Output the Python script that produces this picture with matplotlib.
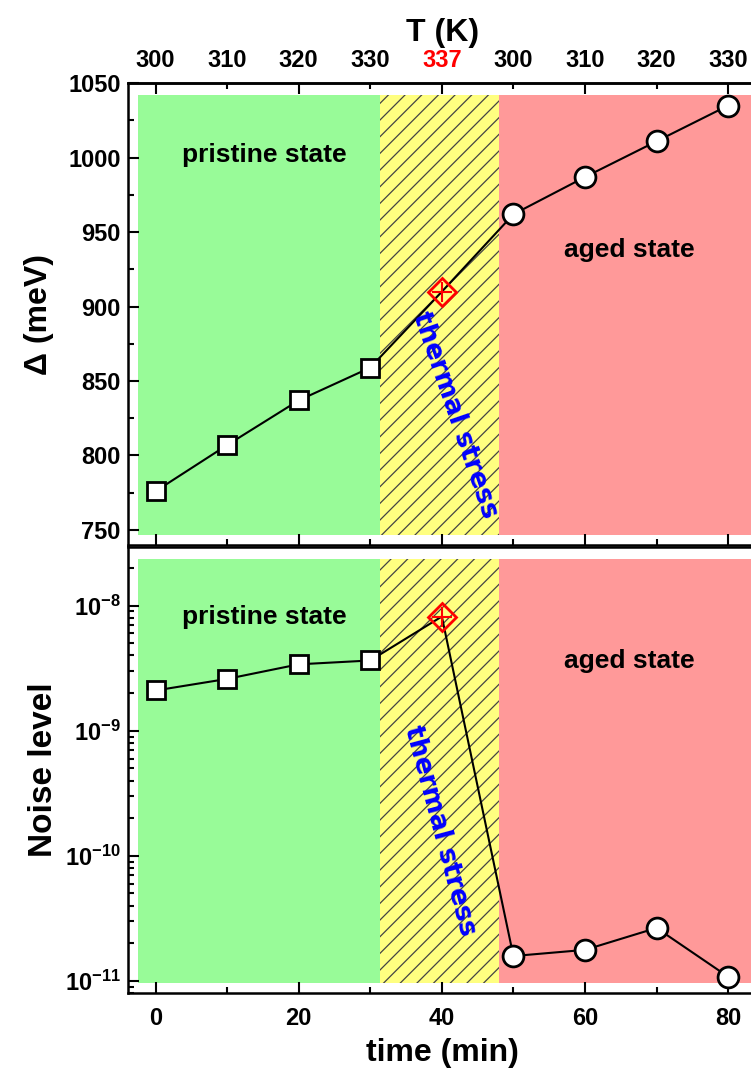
import matplotlib

matplotlib.use('Agg')
import matplotlib.pyplot as plt
from matplotlib.ticker import LogLocator, NullFormatter, FixedLocator

plt.rcParams['font.family'] = ['Liberation Sans', 'DejaVu Sans']
plt.rcParams['font.weight'] = 'bold'
plt.rcParams['axes.labelweight'] = 'bold'
plt.rcParams['mathtext.fontset'] = 'custom'
plt.rcParams['mathtext.rm'] = 'Liberation Sans:bold'
plt.rcParams['mathtext.it'] = 'Liberation Sans:bold'
plt.rcParams['mathtext.default'] = 'rm'
plt.rcParams['hatch.linewidth'] = 0.9

# 数据
TIME = [0, 10, 20, 30, 40, 50, 60, 70, 80]
GAP = [776, 807, 837, 859, 910, 962, 987, 1011, 1035]          # Δ (meV)
NOISE = [2.1e-9, 2.6e-9, 3.4e-9, 3.65e-9, 8.2e-9, 1.58e-11, 1.77e-11, 2.65e-11, 1.08e-11]
TEMP_MAJOR = ['300', '320', '337', '310', '330']
TEMP_MINOR = ['310', '330', '300', '320']

PRISTINE = (-2.4, 31.4)
STRESS = (31.4, 48.0)
AGED = (48.0, 90)

GREEN = '#98fb98'
YELLOW = '#ffff80'
PINK = '#ff9999'

TICK_FS = 17

fig = plt.figure(figsize=(7.51, 10.81), dpi=100)
W = 0.8376
ax1 = fig.add_axes([0.170, 0.496, W, 0.427])
ax2 = fig.add_axes([0.170, 0.0814, W, 0.4126])


def shade(ax, lo, hi):
    ax.axvspan(*PRISTINE, ymin=lo, ymax=hi, color=GREEN, lw=0, zorder=0)
    ax.axvspan(*STRESS, ymin=lo, ymax=hi, facecolor=YELLOW, edgecolor='#444444',
               hatch='//', lw=0, zorder=0)
    ax.axvspan(*AGED, ymin=lo, ymax=hi, color=PINK, lw=0, zorder=0)


def draw_series(ax, y):
    ax.plot(TIME, y, '-k', lw=1.5, zorder=2)
    ax.plot(TIME[:4], y[:4], 's', ms=13, mfc='white', mec='black', mew=2, zorder=3)
    ax.plot(TIME[5:], y[5:], 'o', ms=15, mfc='white', mec='black', mew=2, zorder=3)
    ax.plot(TIME[4], y[4], 'D', ms=14, mfc='none', mec='red', mew=2, zorder=4)
    ax.plot(TIME[4], y[4], '+', ms=14, mec='red', mew=1.5, zorder=4)


for ax in (ax1, ax2):
    ax.set_xlim(-3.9, 84)
    ax.xaxis.set_major_locator(FixedLocator([0, 20, 40, 60, 80]))
    ax.xaxis.set_minor_locator(FixedLocator([10, 30, 50, 70]))
    ax.tick_params(which='both', direction='in', labelsize=TICK_FS, width=1.5)
    ax.tick_params(which='major', length=8)
    ax.tick_params(which='minor', length=4)
    ax.tick_params(axis='y', pad=5)
    for s in ax.spines.values():
        s.set_linewidth(1.8)
    ax.spines['right'].set_visible(False)

# 上图
shade(ax1, 0.022, 0.974)
draw_series(ax1, GAP)
ax1.set_ylim(740, 1050)
ax1.set_yticks([750, 800, 850, 900, 950, 1000, 1050])
ax1.set_yticks([775, 825, 875, 925, 975, 1025], minor=True)
ax1.tick_params(axis='x', labelbottom=False)
ax1.set_ylabel('Δ (meV)', fontsize=23, labelpad=10)
ax1.text(15.2, 1002, 'pristine state', fontsize=19, ha='center', va='center')
ax1.text(66.2, 938, 'aged state', fontsize=19, ha='center', va='center')
ax1.text(41.8, 827, 'thermal stress', fontsize=19, color='blue', rotation=-71,
         ha='center', va='center', family='DejaVu Sans')

top = ax1.secondary_xaxis('top')
top.set_xticks([0, 20, 40, 60, 80], labels=TEMP_MAJOR)
top.set_xticks([10, 30, 50, 70], labels=TEMP_MINOR, minor=True)
top.tick_params(which='both', direction='in', labelsize=TICK_FS, width=1.5, pad=8)
top.tick_params(which='major', length=8)
top.tick_params(which='minor', length=4)
top.get_xticklabels()[2].set_color('red')
top.spines['top'].set_linewidth(1.8)
top.set_xlabel('T (K)', fontsize=23, labelpad=6)

# 下图
shade(ax2, 0.022, 0.973)
draw_series(ax2, NOISE)
ax2.set_yscale('log')
ax2.set_ylim(8e-12, 2.95e-8)
ax2.yaxis.set_major_locator(LogLocator(base=10, numticks=10))
ax2.yaxis.set_minor_locator(LogLocator(base=10, subs=range(2, 10), numticks=10))
ax2.yaxis.set_minor_formatter(NullFormatter())
ax2.set_ylabel('Noise level', fontsize=24, labelpad=4)
ax2.set_xlabel('time (min)', fontsize=23, labelpad=6)
ax2.tick_params(axis='x', pad=10)
ax2.text(15.2, 8.2e-9, 'pristine state', fontsize=19, ha='center', va='center')
ax2.text(66.2, 3.6e-9, 'aged state', fontsize=19, ha='center', va='center')
ax2.text(39.7, 1.6e-10, 'thermal stress', fontsize=19, color='blue', rotation=-75,
         ha='center', va='center', family='DejaVu Sans')

fig.savefig('out.png', dpi=100)
